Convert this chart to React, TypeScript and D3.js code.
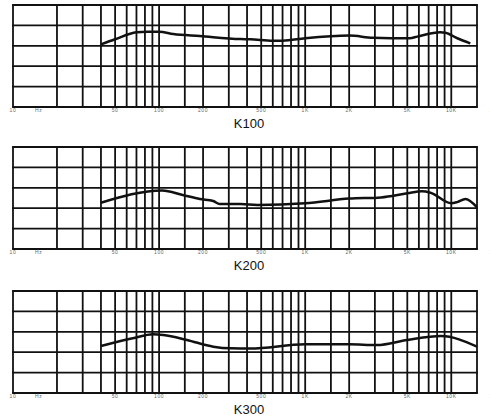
import * as d3 from "d3";
import { useEffect, useRef } from "react";

// frequency grid (Hz)
const gridFreqs = [
  10, 20, 30, 40, 50, 60, 70, 80, 90, 100, 150, 200, 300, 400, 500, 600, 700,
  800, 900, 1000, 1500, 2000, 3000, 4000, 5000, 6000, 7000, 8000, 9000, 10000,
  15000,
];
const labelFreqs = [10, 15, 50, 100, 200, 500, 1000, 2000, 5000, 10000, 20000];
const labelTexts = ["10", "Hz", "50", "100", "200", "500", "1K", "2K", "5K", "10K", "20K"];
const levelTicks = [0, 10, 20, 30, 40, 50];

const models = ["K100", "K200", "K300"];

const k100Freq = [40, 50, 70, 83, 100, 125, 190, 360, 420, 600, 700, 1000, 2000, 2900, 5200, 5850, 8400, 9100, 11000, 13500];
const k100Level = [30.7, 33.2, 36.6, 36.9, 36.9, 35.8, 34.8, 33.3, 33.2, 32.5, 32.5, 33.7, 35, 34, 33.7, 34.5, 36.6, 36.4, 33.7, 31.2];

const k200Freq = [40, 105, 145, 190, 235, 260, 360, 470, 1000, 2000, 3300, 5000, 6300, 7200, 10000, 11000, 12500, 15000];
const k200Level = [22.7, 28.7, 26.5, 24.5, 23.5, 22, 22, 21.6, 22.4, 24.7, 25.3, 27.3, 28.3, 27.6, 22.4, 23, 24.5, 20.4];

const k300Freq = [40, 66, 91, 107, 155, 235, 310, 420, 1000, 2000, 3100, 5000, 8500, 15000];
const k300Level = [23, 26.8, 28.8, 28.4, 26, 22.7, 21.9, 21.8, 23.9, 23.9, 23.5, 26, 27.9, 22.7];

const series = [
  { freq: k100Freq, level: k100Level },
  { freq: k200Freq, level: k200Level },
  { freq: k300Freq, level: k300Level },
];

const App = () => {
  const svgRef = useRef<SVGSVGElement | null>(null);

  useEffect(() => {
    const svg = d3.select(svgRef.current);
    svg.selectAll("*").remove();

    const left = 13;
    const right = 477;
    const panelTops = [5, 147, 291];
    const panelH = 102;
    const font = "'Liberation Sans', Arial, sans-serif";

    const x = d3.scaleLog().domain([10, 15000]).range([left, right]);

    models.forEach((name, i) => {
      const top = panelTops[i];
      const y = d3.scaleLinear().domain([0, 50]).range([top + panelH, top]);
      const g = svg.append("g");

      // vertical grid
      g.selectAll("line.v")
        .data(gridFreqs)
        .join("line")
        .attr("x1", (d) => x(d))
        .attr("x2", (d) => x(d))
        .attr("y1", y(0))
        .attr("y2", y(50))
        .attr("stroke", "#111")
        .attr("stroke-width", 1.8);

      // horizontal grid
      g.selectAll("line.h")
        .data(levelTicks)
        .join("line")
        .attr("x1", left - 0.9)
        .attr("x2", right + 0.9)
        .attr("y1", (d) => y(d))
        .attr("y2", (d) => y(d))
        .attr("stroke", "#111")
        .attr("stroke-width", 1.8);

      // tick labels
      g.selectAll("text.t")
        .data(labelFreqs)
        .join("text")
        .attr("x", (d) => x(d))
        .attr("y", y(0) + 4.5)
        .attr("text-anchor", "middle")
        .attr("font-family", font)
        .attr("font-size", 5)
        .attr("letter-spacing", 0.6)
        .attr("fill", "#666")
        .text((d, j) => labelTexts[j]);

      // response curve
      const s = series[i];
      const line = d3
        .line<number>()
        .x((d, j) => x(s.freq[j]))
        .y((d) => y(d))
        .curve(d3.curveMonotoneX);
      g.append("path")
        .datum(s.level)
        .attr("fill", "none")
        .attr("stroke", "#111")
        .attr("stroke-width", 2.5)
        .attr("stroke-linejoin", "round")
        .attr("d", line);

      // title
      g.append("text")
        .attr("x", 249)
        .attr("y", y(0) + 21)
        .attr("text-anchor", "middle")
        .attr("font-family", font)
        .attr("font-size", 13)
        .attr("fill", "#111")
        .text(name);
    });
  }, []);

  return (
    <svg
      ref={svgRef}
      width={490}
      height={417}
      style={{ position: "absolute", left: 0, top: 0, background: "#fff" }}
    ></svg>
  );
};

export default App;
